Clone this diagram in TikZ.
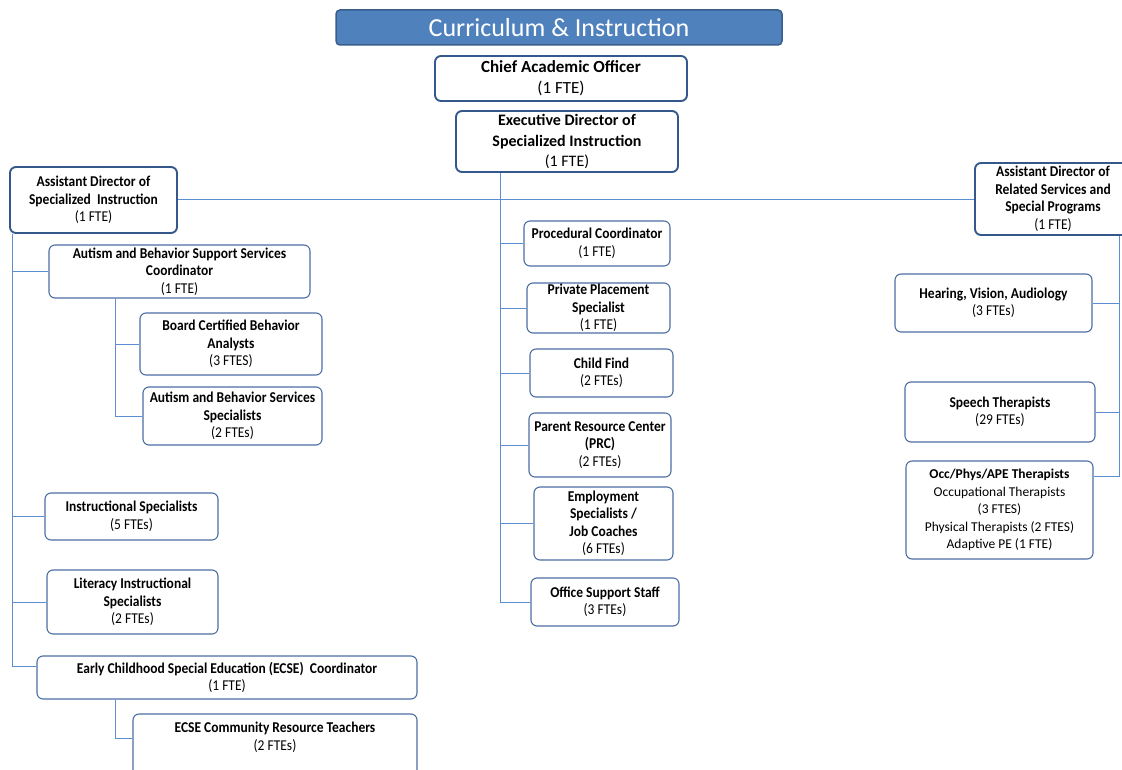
\documentclass[tikz,border=0pt]{standalone}
\usepackage{fontspec}
\setmainfont{Carlito}
\newfontfamily\narrowfont[FakeStretch=0.9]{Carlito}
\usetikzlibrary{positioning}
\definecolor{titleblue}{RGB}{79,129,189}
\definecolor{titleedge}{RGB}{56,93,138}
\definecolor{headblue}{RGB}{52,88,140}
\definecolor{boxblue}{RGB}{75,110,165}
\definecolor{lineblue}{RGB}{91,142,210}

\begin{document}
\begin{tikzpicture}[x=1pt, y=-1pt,
    unit/.style={draw=boxblue, line width=1.1pt, rounded corners=6pt, fill=white, align=center, inner sep=0pt,
        font=\narrowfont\fontsize{15}{17.5}\selectfont},
    lead/.style={unit, draw=headblue, line width=1.9pt},
    top/.style={lead, font=\fontsize{16}{20.5}\selectfont},
    link/.style={draw=lineblue, line width=1pt}]
    \useasboundingbox (0,0) rectangle (1122,770);
    \clip (0,0) rectangle (1122,770);

    % Title and top posts
    \node[draw=titleedge, fill=titleblue, line width=1.5pt, rounded corners=4pt, text=white, inner sep=0pt,
        font=\fontsize{26}{30}\selectfont, minimum width=446, minimum height=35] (title) at (559,27.5) {Curriculum \& Instruction};
    \node[top, minimum width=252, minimum height=45, font=\fontsize{17}{21}\selectfont] (chief) at (561,78.5) {\textbf{Chief Academic Officer}\\(1 FTE)};
    \node[top, minimum width=222, minimum height=61] (exec) at (567,141.5) {\textbf{Executive Director of}\\\textbf{Specialized Instruction}\\(1 FTE)};

    % Assistant directors
    \node[lead, minimum width=167, minimum height=66] (adsi) at (93.5,200) {\textbf{Assistant Director of}\\\textbf{Specialized~ Instruction}\\(1 FTE)};
    \node[lead, minimum width=156, minimum height=72] (adrs) at (1053,199) {\textbf{Assistant Director of}\\\textbf{Related Services and}\\\textbf{Special Programs}\\(1 FTE)};

    % Specialized instruction
    \node[unit, minimum width=261, minimum height=53] (absc) at (179.5,271.5) {\textbf{Autism and Behavior Support Services}\\\textbf{Coordinator}\\(1 FTE)};
    \node[unit, minimum width=182, minimum height=62] (bcba) at (231,344) {\textbf{Board Certified Behavior}\\\textbf{Analysts}\\(3 FTES)};
    \node[unit, minimum width=179, minimum height=58] (abss) at (232.5,416) {\textbf{Autism and Behavior Services}\\\textbf{Specialists}\\(2 FTEs)};
    \node[unit, minimum width=173, minimum height=47] (inst) at (131.5,516.5) {\textbf{Instructional Specialists}\\(5 FTEs)};
    \node[unit, minimum width=171, minimum height=64] (lit) at (132.5,602) {\textbf{Literacy Instructional}\\\textbf{Specialists}\\(2 FTEs)};
    \node[unit, minimum width=380, minimum height=43] (ecsec) at (227,677.5) {\textbf{Early Childhood Special Education (ECSE)~ Coordinator}\\(1 FTE)};
    \node[unit, minimum width=284, minimum height=86] (ecserc) at (275,757) {};
    \node[unit, draw=none, fill=none, below=8pt of ecserc.north] (ecsetext) {\textbf{ECSE Community Resource Teachers}\\(2 FTEs)};

    % Middle column
    \node[unit, minimum width=146, minimum height=45] (proc) at (597,243.5) {\textbf{Procedural Coordinator}\\(1 FTE)};
    \node[unit, minimum width=143, minimum height=50] (ppl) at (598.5,308) {\textbf{Private Placement}\\\textbf{Specialist}\\(1 FTE)};
    \node[unit, minimum width=143, minimum height=48] (cfind) at (601.5,373) {\textbf{Child Find}\\(2 FTEs)};
    \node[unit, minimum width=142, minimum height=64] (prc) at (600,445) {\textbf{Parent Resource Center}\\\textbf{(PRC)}\\(2 FTEs)};
    \node[unit, minimum width=139, minimum height=73] (emp) at (603.5,523.5) {\textbf{Employment}\\\textbf{Specialists /}\\\textbf{Job Coaches}\\(6 FTEs)};
    \node[unit, minimum width=148, minimum height=48] (office) at (605,602) {\textbf{Office Support Staff}\\(3 FTEs)};

    % Related services
    \node[unit, minimum width=197, minimum height=58] (hva) at (993.5,303) {\textbf{Hearing, Vision, Audiology}\\(3 FTEs)};
    \node[unit, minimum width=190, minimum height=60] (speech) at (1000,412) {\textbf{Speech Therapists}\\(29 FTEs)};
    \node[unit, minimum width=187, minimum height=98, font=\fontsize{13.5}{17.5}\selectfont] (occ) at (999.5,510)
        {\textbf{Occ/Phys/APE Therapists}\\Occupational Therapists\\(3 FTES)\\Physical Therapists (2 FTES)\\Adaptive PE (1 FTE)};

    % Trunk lines
    \coordinate (lefttrunk) at (12,666);
    \coordinate (abstrunk) at (115,416);
    \coordinate (ecsetrunk) at (115,738);
    \coordinate (midtrunk) at (500,602);
    \coordinate (righttrunk) at (1119,476);

    \draw[link] (adsi.east) -- (adsi.east -| adrs.west);
    \draw[link] (exec.south -| midtrunk) -- (midtrunk) -- (office.west);
    \foreach \n in {proc,ppl,cfind,prc,emp}
        \draw[link] (\n.west -| midtrunk) -- (\n.west);

    \draw[link] (adsi.south -| lefttrunk) -- (lefttrunk) -- (lefttrunk -| ecsec.west);
    \foreach \n in {absc,inst,lit}
        \draw[link] (\n.west -| lefttrunk) -- (\n.west);
    \draw[link] (absc.south -| abstrunk) -- (abstrunk) -- (abss.west);
    \draw[link] (bcba.west -| abstrunk) -- (bcba.west);
    \draw[link] (ecsec.south -| ecsetrunk) -- (ecsetrunk) -- (ecsetrunk -| ecserc.west);

    \draw[link] (adrs.south -| righttrunk) -- (righttrunk) -- (righttrunk -| occ.east);
    \foreach \n in {hva,speech}
        \draw[link] (\n.east -| righttrunk) -- (\n.east);
\end{tikzpicture}
\end{document}
